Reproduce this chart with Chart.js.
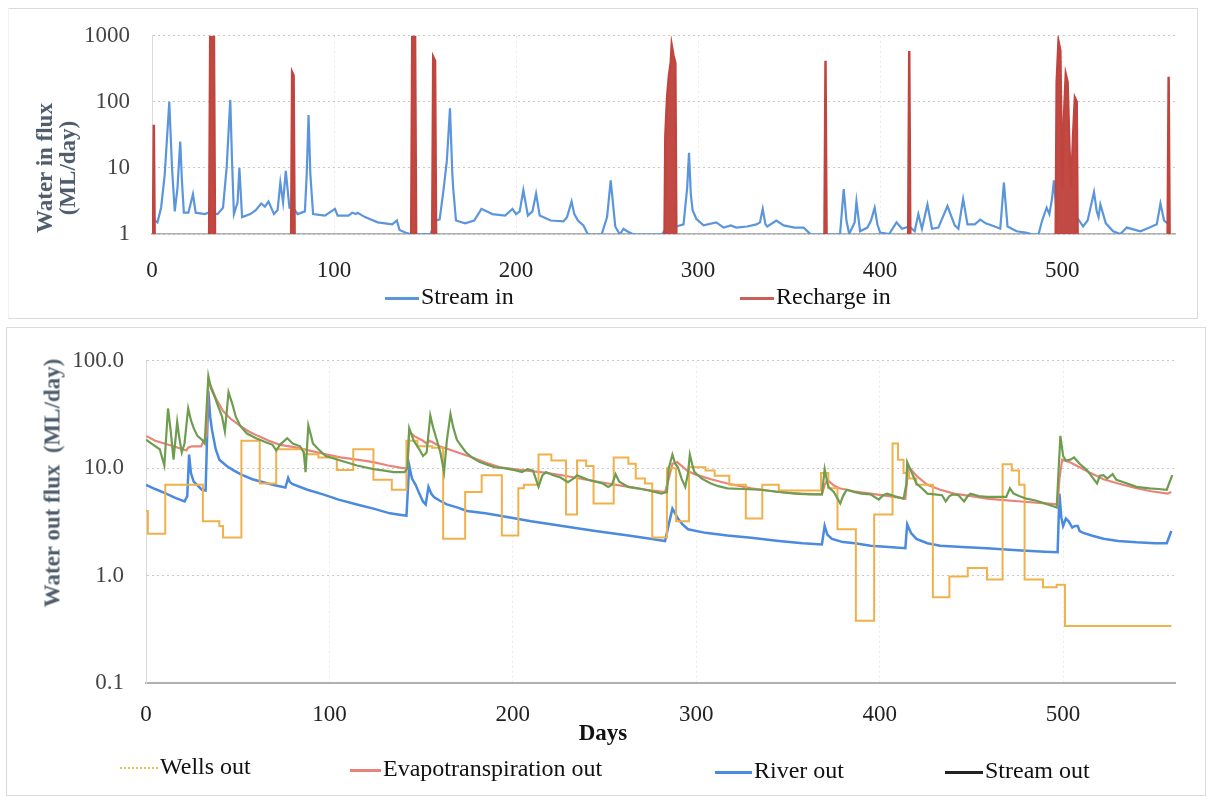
<!DOCTYPE html>
<html><head><meta charset="utf-8">
<script src="https://cdn.jsdelivr.net/npm/chart.js@4.4.1/dist/chart.umd.min.js"></script>
<style>
html,body{margin:0;padding:0;background:#fff;width:1211px;height:800px;overflow:hidden;}
canvas{position:absolute;left:0;}
#c1{top:0;}
#c2{top:325px;}
.frame{position:absolute;border:1px solid #d9dcdf;}
.leg{position:absolute;font-family:"Liberation Serif","Times New Roman",serif;font-size:24px;color:#111;white-space:nowrap;line-height:24px;}
.leg i{display:inline-block;vertical-align:middle;height:3px;margin-right:2px;}
.ytitle{position:absolute;font-family:"Liberation Serif","Times New Roman",serif;font-weight:bold;font-size:23px;line-height:23px;color:#4e5c6b;text-align:center;white-space:pre;transform:translate(-50%,-50%) rotate(-90deg);}
.xtitle{position:absolute;font-family:"Liberation Serif","Times New Roman",serif;font-weight:bold;font-size:23px;line-height:23px;color:#111;transform:translate(-50%,-50%);}
</style></head><body>
<div class="frame" style="left:8px;top:8px;width:1188px;height:309px;border-left-color:#f2f2f2"></div>
<div class="frame" style="left:6px;top:327px;width:1198px;height:467px"></div>
<canvas id="c1" width="1211" height="320"></canvas>
<canvas id="c2" width="1211" height="475"></canvas>
<div class="ytitle" style="left:56px;top:168px">Water in flux
(ML/day)</div>
<div class="ytitle" style="left:52px;top:483px">Water out flux  (ML/day)</div>
<div class="xtitle" style="left:603px;top:732px">Days</div>
<div class="leg" style="left:385px;top:284px"><i style="width:34px;background:#5b95dc"></i>Stream in</div>
<div class="leg" style="left:740px;top:284px"><i style="width:34px;background:#c9605c"></i>Recharge in</div>
<div class="leg" style="left:120px;top:754px"><i style="width:38px;height:0;border-top:2px dotted #e2c04a"></i>Wells out</div>
<div class="leg" style="left:350px;top:756px"><i style="width:31px;background:#e8857a"></i>Evapotranspiration out</div>
<div class="leg" style="left:715px;top:758px"><i style="width:37px;background:#4a8ae0"></i>River out</div>
<div class="leg" style="left:945px;top:758px"><i style="width:38px;background:#222"></i>Stream out</div>
<script>
const dayTicks = [0,100,200,300,400,500];
const inTicks = [1,10,100,1000];
const outTicks = [0.1,1,10,100];

const streamIn = [[0,1.7],[3,1.5],[5,2.5],[7,8],[9.5,100],[11,10],[12.5,2.2],[14,5],[15.5,25],[16.5,6],[17.5,2.1],[20,2.1],[22.5,4.0],[24,2.1],[29,2.0],[31,2.1],[36,2.0],[39,2.5],[41,10],[43,107],[44,12],[45,2.0],[47,3],[48,10],[49.5,1.8],[54,2.0],[57,2.3],[60,2.9],[62,2.6],[64,3.1],[67,2.0],[69,2.3],[70.5,6.0],[72,3],[73.5,9],[75.5,2.5],[78,2.4],[80,2.0],[84,2.2],[85,8],[86,63],[87,8],[88.5,2.0],[95,1.9],[100.5,2.4],[102,1.9],[108,1.9],[110,2.1],[112,2.0],[113,2.1],[117,1.8],[124,1.5],[132,1.4],[134.5,1.6],[136,1.15],[140,1.03],[143,0.98],[146,0.98],[150,1.0],[153,0.98],[155.5,1.6],[158,1.65],[160,4.3],[162,13],[163.7,80],[165,8],[165.5,4.8],[167,1.6],[172,1.45],[177,1.6],[181,2.4],[187,2.0],[194,1.9],[198,2.4],[200,2.0],[202,2.2],[204,4.6],[206.5,1.9],[209,2.2],[211,4.1],[213,1.9],[219,1.6],[226,1.55],[228,1.8],[230.5,3.1],[232,2.0],[234,1.6],[237,1.35],[239.5,0.98],[247,0.98],[250,1.8],[252,6.5],[254.5,1.3],[257,0.98],[259,1.2],[261,1.1],[264,1.0],[266,0.98],[280,0.98],[284,1.4],[288,1.3],[292,1.4],[294,5],[295,17],[296,4],[297,2.3],[299,1.7],[303,1.35],[310,1.5],[314,1.25],[318,1.35],[321,1.25],[327,1.3],[332,1.4],[334,1.5],[335.5,2.4],[337,1.4],[338,1.3],[343,1.6],[347,1.35],[353,1.25],[358,1.25],[362,0.98],[366,0.98],[368,0.98],[376,0.98],[378,1.0],[380,4.8],[381.5,1.6],[383,1.0],[386,1.5],[387,3.1],[389,1.1],[393,1.25],[395,1.6],[397,2.5],[398.5,1.4],[400,1.05],[405,1.0],[409,1.5],[412,1.2],[416,1.3],[419,1.1],[421,2.0],[423,1.2],[426,2.8],[428.5,1.2],[432,1.25],[437,2.65],[441,1.35],[443,1.2],[445.6,3.4],[448,1.4],[452,1.4],[455,1.65],[458,1.45],[463,1.3],[466,1.2],[468,6.0],[470,1.3],[475,1.1],[480,1.05],[484,0.98],[487,0.98],[489,1.6],[491.5,2.5],[493,2.0],[494.5,3.5],[495.5,6.5],[497,2],[500,1.6],[503,2.2],[506,3.0],[508,1.8],[511.5,1.3],[514,1.6],[517.5,4.3],[519,2.2],[520,1.8],[521,2.8],[524,1.45],[528,1.1],[532,1.0],[535.5,1.25],[543,1.1],[548,1.25],[552,1.4],[554,2.9],[556,1.6],[558,1.45]];

const rechargeIn = [[0,0.01],[1,45],[2,0.01],[31,0.01],[32,1200],[33,1200],[34,1200],[35,0.01],[76,0.01],[77,280],[77.8,250],[78.8,0.01],[142,0.01],[143,1200],[144.5,1200],[145.5,0.01],[153.5,0.01],[154.5,480],[155.5,420],[156.5,0.01],[281,0.01],[282,30],[283,120],[284,250],[285,400],[285.5,720],[286.5,500],[287.5,390],[288.5,0.01],[369,0.01],[370,420],[371,0.01],[415,0.01],[416,590],[417,0.01],[496,0.01],[497,200],[498,820],[499,600],[500,5],[501,60],[502,260],[503,200],[504,20],[505,5],[506,30],[507,115],[508,100],[509,0.01],[557.5,0.01],[558.5,240],[559.5,0.01]];

const wellsOut = [[0,4.0],[1,2.45],[10.5,7.0],[31,3.2],[40,2.9],[42,2.26],[52,18],[62,7.2],[71,15],[86,13.5],[94,12.6],[104,9.6],[113,15],[124,7.8],[134,6.3],[142,18],[148,16],[156,15.5],[162,2.2],[174,6.0],[183,8.6],[194,2.36],[203,6.5],[206,7.0],[214,13.4],[221,11.8],[229,3.7],[235,11.8],[240,10.5],[244,4.7],[255,12.6],[263,11],[267,8.0],[272,7.2],[276,2.26],[284,10],[289,3.2],[296,10.2],[305,9.5],[310,8.5],[318,7.0],[327,3.4],[336,7.0],[345,6.2],[368,9],[372,6.5],[377,2.7],[387,0.38],[397,3.7],[407,17],[410,12],[413,9],[416,8],[420,7.0],[429,0.63],[438,0.98],[448,1.18],[458.5,0.92],[467,10.9],[472,9.5],[476,7.0],[479,0.92],[489,0.78],[496.5,0.82],[501,0.34],[559,0.34]];

const evapOut = [[0,20],[5,18],[10,17],[15,16],[22,14.6],[23,15.5],[25,16],[30,16],[33,20],[34,65],[36,55],[38,45],[42,34],[46,29],[51,25],[56,22],[61,20],[67,18],[73,16.5],[80,15.8],[87,14.9],[96,13.7],[106,12.6],[115,12],[124,11.4],[132,10.6],[140,10.0],[142.5,10],[143.5,22],[146,20],[151,18],[153,17],[154.5,18],[156,17.5],[160,16],[165,15],[170,14],[178,12.6],[185,11.3],[193,10.2],[205,9.6],[215,9.2],[227,8.6],[240,7.8],[252,7.2],[263,6.7],[273,6.3],[283,6.0],[285,8],[287,11],[289.5,11.4],[292,10.5],[295,9.5],[299,8.8],[308,7.9],[317,7.2],[330,6.5],[345,6.0],[357,5.8],[368.5,5.7],[370,7],[371.5,7.8],[375,6.9],[378,6.5],[386,6.1],[395,5.8],[405,5.5],[414,5.2],[415,8],[416,10.2],[420,8.5],[426,7.0],[433,6.3],[440.5,5.8],[450,5.5],[458.5,5.2],[468,5.05],[477,4.9],[487,4.75],[497,4.6],[498,8],[499.5,12],[504,11.3],[509,10.2],[515,9],[522,7.9],[530,7.2],[540,6.5],[548,6.1],[557,5.8],[559,6]];

const riverOut = [[0,7.0],[5,6.4],[11,5.8],[16,5.3],[21,4.9],[22.5,5.5],[23.5,13.4],[24.5,9],[26,7.5],[30.5,6.3],[32.5,6.2],[34,52],[35,30],[36,22.6],[38,15],[40,12],[44,10.5],[47.5,9.6],[52,8.7],[58,7.9],[64,7.4],[69,7.0],[76,6.6],[77.5,8.1],[78.5,7.4],[80,7.1],[88,6.3],[96.5,5.7],[105,5.1],[115,4.6],[124,4.2],[133,3.8],[142,3.6],[143.5,10.6],[145,8],[147,7.0],[149,5.8],[151,4.9],[152.5,4.6],[154,6.7],[155.5,5.8],[157,5.4],[160,5.0],[164,4.6],[170,4.3],[175,4.0],[185,3.8],[193,3.6],[210,3.2],[227,2.9],[245,2.6],[263,2.36],[275,2.2],[283,2.1],[285,3],[287,4.2],[288.5,3.8],[290,3.4],[292.5,3.0],[295.5,2.7],[305,2.5],[317,2.36],[330,2.25],[345,2.1],[358,2.0],[368.5,1.95],[370,2.9],[371.5,2.4],[374,2.2],[380,2.05],[386.5,2.0],[395,1.9],[405,1.85],[414,1.8],[415,3.0],[417,2.5],[420,2.2],[426,2.0],[433,1.9],[445,1.85],[458.5,1.8],[475,1.72],[490,1.67],[497,1.65],[498,5.8],[499,3.5],[500,2.9],[501.5,3.4],[503,3.2],[505,2.8],[506.5,2.9],[508,2.9],[509,2.6],[511,2.5],[516,2.35],[522,2.2],[530,2.1],[540,2.04],[550,2.0],[556.5,2.0],[559,2.6]];

const streamOut = [[0,18.4],[4,16.5],[7.5,15],[10,10.6],[12,36],[13.5,22],[15,12],[17,27],[18,20],[19.5,14],[21,17],[23,36],[24.5,28],[26,23.6],[28,20],[30.5,18.4],[32,17],[34,72],[35.5,55],[37.5,46],[39.5,37],[41.5,30],[43,22],[45,51],[47,40],[49,30],[51.5,24.6],[55,21],[60,19],[65,17.5],[69,16.5],[71,14.6],[73,16.5],[77,19],[80,17],[84,16],[86,14],[87,9.2],[88.5,25],[90,20],[91,17],[94,15],[98,13],[106,11.8],[115,10.6],[124,9.8],[130,9.5],[135,9.2],[141,9.2],[142.5,10],[143.5,23.6],[146,18],[149,15],[151,13],[153,14],[155,31],[156.5,24],[158.5,18.4],[160.5,14],[162.5,9.2],[164,18],[166,32],[167.5,24],[169.5,18.4],[172,16],[174.5,14],[178,12.5],[182,11.4],[186,10.8],[190,10.2],[195,10.0],[201,9.6],[205,9.2],[208,9.8],[211,9.5],[214,6.7],[216,8.5],[218,9.2],[222,8.6],[226,8.2],[230,7.4],[233,8],[235,8.6],[238,8.2],[241,7.8],[245,7.5],[249,7.2],[252,6.7],[254,7],[256,8.8],[258,7.5],[263,6.7],[268,6.5],[274,6.2],[281,5.8],[284,6],[285,10],[287,13.4],[288.5,11],[290,10.2],[292,8],[294,6.7],[295.5,9],[296.5,13.4],[298,10.5],[299,9.2],[303,8],[308,7.2],[312,6.8],[317,6.5],[325,6.4],[335,6.3],[345,6.0],[354,5.8],[362,5.7],[368.5,5.7],[370,9.8],[371,8],[372,6.7],[375,6],[378.5,4.7],[380,5.5],[382,6.3],[386,6],[390,5.8],[395,5.7],[399.5,5.1],[402,5.6],[404,5.8],[408,5.5],[413,5.2],[414.5,7],[415,11.4],[417,9.5],[420,7.2],[423,6.5],[426,5.8],[430,5.7],[434,5.6],[436,4.9],[438,5.5],[440,5.7],[443,5.6],[446,4.9],[448,5.5],[449.5,5.8],[454,5.5],[458.5,5.4],[463,5.4],[469,5.4],[471,6.5],[473,5.8],[476,5.5],[480,5.2],[485,5.0],[490,4.7],[495,4.4],[496.5,4.3],[498.5,20],[500,13],[501.5,11.8],[504,12],[506,12.6],[509,11],[513,9.6],[516,8.2],[518.5,7.2],[520,8.5],[522,8.6],[524,8],[527,8.8],[529,7.8],[533,7.4],[540,6.7],[547,6.5],[552,6.4],[556.5,6.3],[559.5,8.6]];

const pts = a => a.map(([x, y]) => ({x, y}));
const FONT = '"Liberation Serif", "Times New Roman", serif';

function opts(cfg) {
  return {
    responsive: false, animation: false, devicePixelRatio: 1,
    layout: {padding: cfg.pad},
    plugins: {legend: {display: false}, tooltip: {enabled: false}},
    elements: {point: {radius: 0, hoverRadius: 0}, line: {tension: 0}},
    scales: {
      x: {
        type: 'linear', min: 0, max: cfg.xmax,
        afterBuildTicks: s => { s.ticks = dayTicks.map(v => ({value: v})); },
        afterFit: s => { s.height = 60; },
        ticks: {padding: cfg.xpad, color: '#222', font: {family: FONT, size: 23}, maxRotation: 0, callback: v => String(v)},
        grid: {color: '#ebebeb', drawTicks: false},
        border: {display: true, color: '#b0b0b0', width: cfg.xbw, dash: [2, 3]}
      },
      y: {
        type: 'logarithmic', min: cfg.ymin, max: cfg.ymax,
        afterBuildTicks: s => { s.ticks = cfg.yticks.map(v => ({value: v})); },
        afterFit: s => { s.width = cfg.ywidth; },
        ticks: {padding: 22, color: '#444', font: {family: FONT, size: 23}, callback: cfg.fmt},
        grid: {color: '#c8c8c8', drawTicks: false},
        border: {display: true, color: '#dadada', width: 1, dash: [2, 3]}
      }
    }
  };
}

new Chart(document.getElementById('c1'), {
  type: 'line',
  data: {datasets: [
    {label: 'Recharge in', data: pts(rechargeIn), borderColor: '#c0453f', backgroundColor: '#c24a44', borderWidth: 2.5, fill: 'start'},
    {label: 'Stream in', data: pts(streamIn), borderColor: '#5b95dc', borderWidth: 2.2}
  ]},
  options: opts({pad: {left: 0, right: 36, top: 27, bottom: 26}, xmax: 562, xpad: 23, xbw: 1.5,
    ymin: 1, ymax: 1000, yticks: inTicks, ywidth: 152, fmt: v => String(v)})
});

new Chart(document.getElementById('c2'), {
  type: 'line',
  data: {datasets: [
    {label: 'Stream out', data: pts(streamOut), borderColor: '#6f9d50', borderWidth: 2.2},
    {label: 'Wells out', data: pts(wellsOut), borderColor: '#f0b04a', borderWidth: 2, stepped: true},
    {label: 'Evapotranspiration out', data: pts(evapOut), borderColor: '#e8857a', borderWidth: 2.2},
    {label: 'River out', data: pts(riverOut), borderColor: '#4a8ae0', borderWidth: 2.5}
  ]},
  options: opts({pad: {left: 0, right: 36, top: 26, bottom: 57}, xmax: 561, xpad: 18, xbw: 2,
    ymin: 0.1, ymax: 100, yticks: outTicks, ywidth: 146, fmt: v => Number(v).toFixed(1)})
});
</script>
</body></html>
